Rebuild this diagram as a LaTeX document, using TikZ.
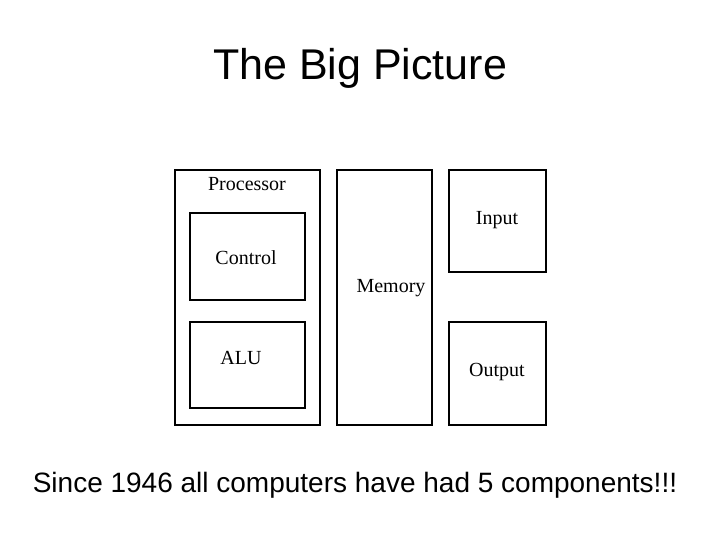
\documentclass[tikz,border=0pt]{standalone}
\usepackage{fontspec}
\setmainfont{Liberation Serif}
\newfontfamily\arialf{Liberation Sans}
\begin{document}
\begin{tikzpicture}[x=1pt,y=-1pt,
  box/.style={draw,line width=1.3pt},
  lbl/.style={font=\fontsize{20}{22}\selectfont},
  ttl/.style={font=\arialf\fontsize{43}{48}\selectfont}]
\useasboundingbox[fill=white] (0,0) rectangle (720,540);
\node[ttl] (title) at (360,68) {The Big Picture};
\draw[box] (175,170) rectangle (320,425);
\draw[box] (190,213) rectangle (305,300);
\draw[box] (190,322) rectangle (305,408);
\draw[box] (337,170) rectangle (432,425);
\draw[box] (449,170) rectangle (546,272);
\draw[box] (449,322) rectangle (546,425);
\node[lbl] (proc) at (247,184) {Processor};
\node[lbl] (ctrl) at (246,258) {Control};
\node[lbl] (alu) at (241,358) {ALU};
\node[lbl] (mem) at (391,288) {Memory};
\node[lbl] (in) at (497,220) {Input};
\node[lbl] (out) at (497,372) {Output};
\node[font=\arialf\fontsize{28}{32}\selectfont] (note) at (355,485) {Since 1946 all computers have had 5 components!!!};
\end{tikzpicture}
\end{document}
